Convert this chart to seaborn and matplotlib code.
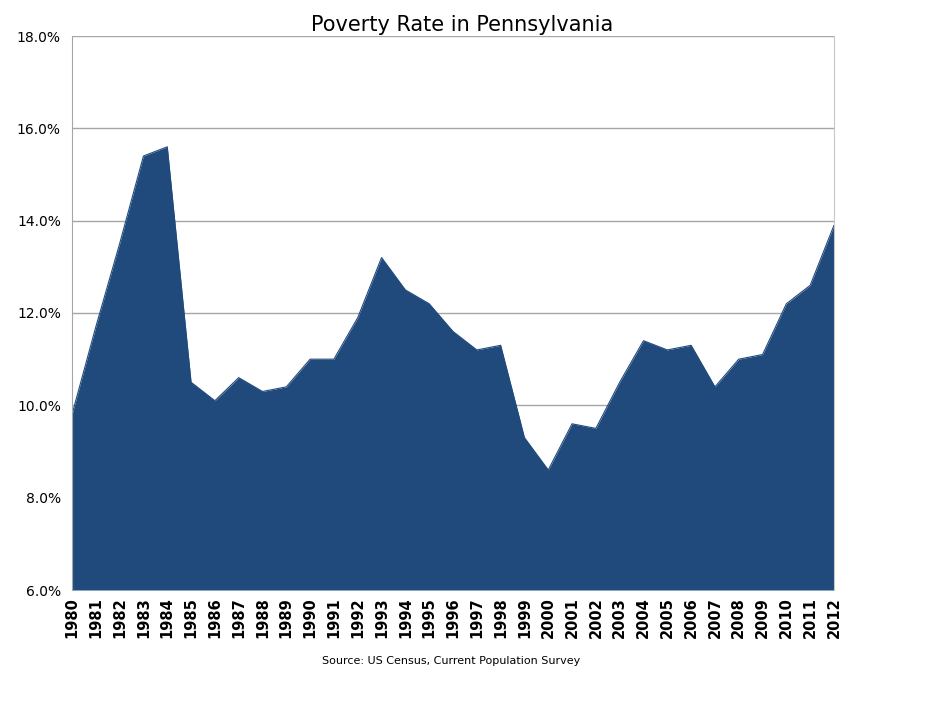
import matplotlib
matplotlib.use("Agg")
import matplotlib.pyplot as plt
import seaborn as sns
import pandas as pd
from matplotlib.ticker import FuncFormatter

years = list(range(1980, 2013))
poverty_rate = [9.8, 11.7, 13.5, 15.4, 15.6, 10.5, 10.1, 10.6, 10.3, 10.4,
                11.0, 11.0, 11.9, 13.2, 12.5, 12.2, 11.6, 11.2, 11.3, 9.3,
                8.6, 9.6, 9.5, 10.5, 11.4, 11.2, 11.3, 10.4, 11.0, 11.1,
                12.2, 12.6, 13.9]
y_ticks = [6, 8, 10, 12, 14, 16, 18]

df = pd.DataFrame({"year": years, "rate": poverty_rate})

sns.set_style("white")
plt.rcParams['font.family'] = ['DejaVu Sans']

fig = plt.figure(figsize=(9.27, 7.06), dpi=100)
ax = fig.add_axes([72/927, 1-590/706, (834-72)/927, (590-36)/706])

color = "#214A7C"
sns.lineplot(data=df, x="year", y="rate", ax=ax, color=color, linewidth=0.8)
ax.fill_between(df["year"], df["rate"], 6, color=color, linewidth=0)

ax.set_xlim(1980, 2012)
ax.set_ylim(6, 18)
ax.set_yticks(y_ticks)
ax.yaxis.set_major_formatter(FuncFormatter(lambda v, p: f"{v:.1f}%"))
ax.set_xticks(years)
ax.set_xticklabels([str(y) for y in years], rotation=90, fontsize=10.5, fontweight='bold', color='black')
ax.tick_params(axis='y', labelsize=10, colors='black', length=0, pad=8)
ax.tick_params(axis='x', length=0, pad=5)
ax.yaxis.grid(True, color='#A6A6A6', linewidth=1)
ax.set_axisbelow(True)
ax.set_xlabel("")
ax.set_ylabel("")
for s in ['top', 'bottom']:
    ax.spines[s].set_visible(False)
ax.spines['left'].set_color('#A6A6A6')
ax.spines['right'].set_color('#C8C8C8')

fig.text(462/927, 1-25/706, "Poverty Rate in Pennsylvania", ha='center', va='center',
         fontsize=15, color='black')
fig.text(451/927, 1-661/706, "Source: US Census, Current Population Survey", ha='center', va='center',
         fontsize=8, color='black')

fig.savefig("out.png", dpi=100)
